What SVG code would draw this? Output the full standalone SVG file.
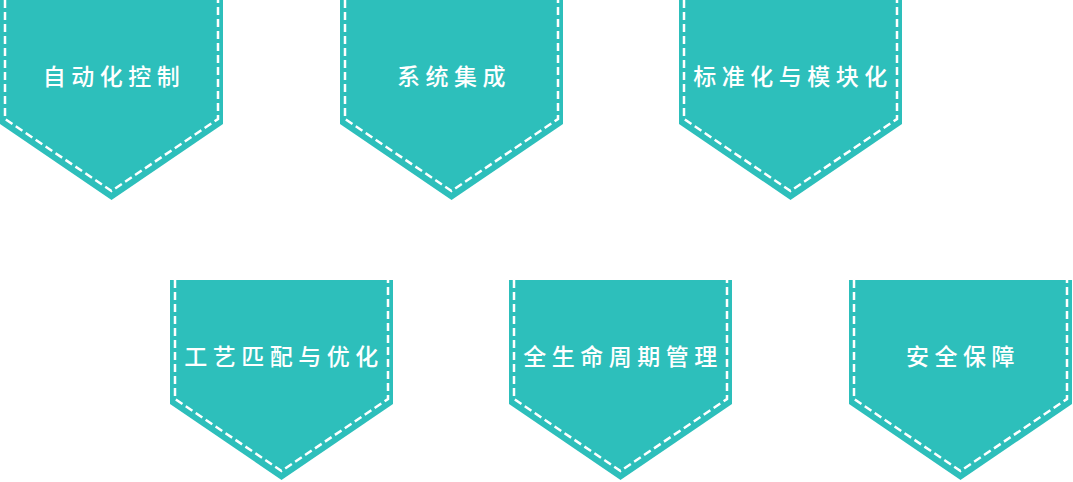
<svg xmlns="http://www.w3.org/2000/svg" width="1073" height="482" viewBox="0 0 1073 482">
<style>
.shape{fill:#2dbfbb}
.dash{fill:none;stroke:#ffffff;stroke-width:2.5;stroke-dasharray:8 4}
.label{fill:#ffffff;font-family:"Noto Sans CJK SC","Noto Sans",sans-serif;font-size:23px;font-weight:500;letter-spacing:5.5px;text-anchor:middle}
</style>
<defs>
<g id="badge">
<path class="shape" d="M0,0 H223 V124 L111.5,200 L0,124 Z"/>
<path class="dash" d="M5,0 V119 L111.5,191 L218,119 V0"/>
</g>
</defs>
<g id="node1" transform="translate(0,0)">
<use href="#badge"/>
<text class="label" x="114" y="85">自动化控制</text>
</g>
<g id="node2" transform="translate(340,0)">
<use href="#badge"/>
<text class="label" x="114" y="85">系统集成</text>
</g>
<g id="node3" transform="translate(679,0)">
<use href="#badge"/>
<text class="label" x="114" y="85">标准化与模块化</text>
</g>
<g id="node4" transform="translate(170,280)">
<use href="#badge"/>
<text class="label" x="114" y="85">工艺匹配与优化</text>
</g>
<g id="node5" transform="translate(509,280)">
<use href="#badge"/>
<text class="label" x="114" y="85">全生命周期管理</text>
</g>
<g id="node6" transform="translate(849,280)">
<use href="#badge"/>
<text class="label" x="114" y="85">安全保障</text>
</g>
<g id="connectors"></g>
</svg>
